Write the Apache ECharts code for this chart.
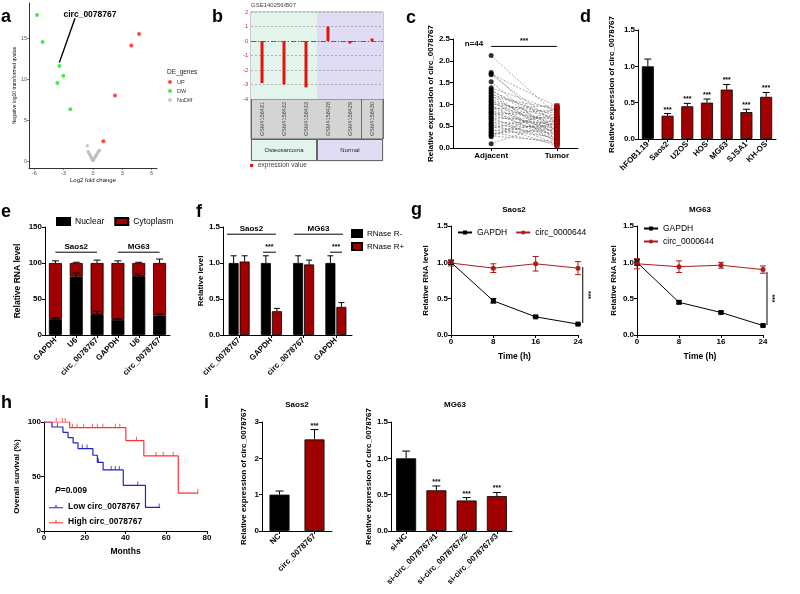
<!DOCTYPE html>
<html><head><meta charset="utf-8">
<script src="https://cdn.jsdelivr.net/npm/echarts@6/dist/echarts.min.js"></script>
<style>html,body{margin:0;padding:0;background:#fff}#chart{width:800px;height:594px}</style>
</head><body><div id="chart"></div>
<script>
// ================= DATA =================
// a: volcano
const volcanoUpX = [4.71, 3.92, 2.25, 1.06];
const volcanoUpY = [15.5, 14.1, 8.0, 2.4];
const volcanoDwX = [-5.73, -5.16, -3.44, -3.04, -3.65, -2.32];
const volcanoDwY = [17.8, 14.5, 11.6, 10.4, 9.5, 6.3];
const volcanoNoX = [-0.58, -0.5, -0.42, -0.34, -0.26, -0.18, -0.1, -0.03, 0.03, 0.1, 0.18, 0.26, 0.34, 0.42, 0.5, 0.58, 0.66];
const volcanoNoY = [1.85, 1.15, 0.98, 0.8, 0.62, 0.44, 0.26, 0.08, 0.1, 0.25, 0.42, 0.58, 0.74, 0.9, 1.05, 1.2, 1.32];
const volcanoLegend = ['UP', 'DW', 'NoDiff'];
// b: GEO profile
const bSamples = ['GSM4158431', 'GSM4158432', 'GSM4158433', 'GSM4158428', 'GSM4158429', 'GSM4158430'];
const bValues = [-2.9, -3.0, -3.2, 1.0, -0.05, 0.05];
const bGroups = ['Osteosarcoma', 'Normal'];
// c: paired
const cCats = ['Adjacent', 'Tumor'];
const cAdjacent = [2.12, 1.73, 1.70, 1.68, 1.52, 1.38, 1.34, 1.31, 1.27, 1.24, 1.20, 1.17, 1.13, 1.10, 1.07, 1.04, 1.01, 0.98, 0.95, 0.92, 0.90, 0.87, 0.84, 0.82, 0.79, 0.76, 0.73, 0.70, 0.67, 0.64, 0.60, 0.57, 0.54, 0.51, 0.48, 0.45, 0.42, 0.39, 0.36, 0.33, 0.30, 0.28, 0.26, 0.10];
const cTumor = [0.75, 0.35, 0.95, 0.55, 0.25, 0.85, 0.40, 0.62, 0.18, 0.72, 0.30, 0.90, 0.50, 0.12, 0.68, 0.45, 0.80, 0.22, 0.58, 0.35, 0.97, 0.15, 0.65, 0.42, 0.28, 0.88, 0.52, 0.08, 0.70, 0.38, 0.20, 0.60, 0.05, 0.48, 0.33, 0.78, 0.25, 0.55, 0.10, 0.43, 0.65, 0.15, 0.92, 0.60];
// d: cell lines
const dCells = ['hFOB1.19', 'Saos2', 'U2OS', 'HOS', 'MG63', 'SJSA1', 'KH-OS'];
const dMeans = [1.00, 0.32, 0.45, 0.50, 0.68, 0.37, 0.58];
const dErr = [0.10, 0.03, 0.04, 0.05, 0.07, 0.04, 0.06];
// e: nuclear / cytoplasm
const eCats = ['GAPDH', 'U6', 'circ_0078767', 'GAPDH', 'U6', 'circ_0078767'];
const eNuclear = [22, 81, 29, 21, 82, 27];
const eNuclearErr = [1.5, 5, 4, 1.5, 3.5, 2];
const eCyto = [78, 19, 71, 79, 18, 73];
const eCytoErr = [3, 1, 4, 3, 1, 5.5];
// f: RNase R
const fCats = ['circ_0078767', 'GAPDH', 'circ_0078767', 'GAPDH'];
const fMinus = [1.00, 1.00, 1.00, 1.00];
const fMinusErr = [0.10, 0.10, 0.10, 0.10];
const fPlus = [1.02, 0.33, 0.98, 0.39];
const fPlusErr = [0.08, 0.04, 0.06, 0.06];
// g: actinomycin D
const gTime = [0, 8, 16, 24];
const gSaosGapdh = [1.00, 0.47, 0.25, 0.15];
const gSaosGapdhErr = [0.03, 0.03, 0.01, 0.01];
const gSaosCirc = [0.99, 0.92, 0.98, 0.92];
const gSaosCircErr = [0.04, 0.06, 0.10, 0.09];
const gMgGapdh = [1.00, 0.45, 0.31, 0.13];
const gMgGapdhErr = [0.04, 0.02, 0.01, 0.01];
const gMgCirc = [0.98, 0.94, 0.96, 0.90];
const gMgCircErr = [0.07, 0.08, 0.04, 0.05];
// h: Kaplan-Meier
const hLowT = [0, 3.9, 9.3, 11.8, 14.3, 16.7, 24, 26.2, 29, 38.9, 49.8, 57];
const hLowS = [100, 95.4, 90.5, 85.7, 80.8, 75.6, 69.5, 63, 56, 41.8, 21.6, 21.6];
const hLowCensT = [6.6, 18.8, 21.1, 26.7, 33, 35, 37, 46, 56.5];
const hLowCensS = [95.4, 75.6, 75.6, 63, 56, 56, 56, 41.8, 21.6];
const hHighT = [0, 12.6, 40.2, 49, 65.9, 75.7];
const hHighS = [100, 94.8, 82.9, 68.9, 34.8, 34.8];
const hHighCensT = [6, 9, 10.4, 13.9, 16.2, 19.5, 23.8, 26.2, 28.9, 35, 37.2, 45.4, 55, 58.5, 63.4, 75.5];
const hHighCensS = [100, 100, 100, 94.8, 94.8, 94.8, 94.8, 94.8, 94.8, 94.8, 94.8, 82.9, 68.9, 68.9, 68.9, 34.8];
// i: overexpression / knockdown
const iLeftCats = ['NC', 'circ_0078767'];
const iLeft = [1.00, 2.52];
const iLeftErr = [0.10, 0.27];
const iRightCats = ['si-NC', 'si-circ_0078767#1', 'si-circ_0078767#2', 'si-circ_0078767#3'];
const iRight = [1.00, 0.56, 0.42, 0.48];
const iRightErr = [0.10, 0.06, 0.04, 0.05];

// ================= HELPERS =================
const FF = '"Liberation Sans", Arial, sans-serif';
const RED = '#a10000';
const option = { animation: false, backgroundColor: '#fff', grid: [], xAxis: [], yAxis: [], series: [], legend: [], graphic: [] };
function push(arr, o) { arr.push(o); return arr.length - 1; }
function merge(a, b) {
  for (const k in b) {
    if (b[k] && typeof b[k] === 'object' && !Array.isArray(b[k]) && typeof b[k] !== 'function' && a[k] && typeof a[k] === 'object') merge(a[k], b[k]);
    else a[k] = b[k];
  }
  return a;
}
function gpAxis(o) {
  return merge({
    axisLine: { show: true, onZero: false, lineStyle: { color: '#000', width: 1 } },
    axisTick: { show: true, length: 3, lineStyle: { color: '#000', width: 1 } },
    axisLabel: { color: '#000', fontWeight: 'bold', fontSize: 8, fontFamily: FF, margin: 3 },
    splitLine: { show: false },
    nameLocation: 'middle',
    nameTextStyle: { color: '#000', fontWeight: 'bold', fontSize: 8, fontFamily: FF }
  }, o);
}
function addGrid(g) { return push(option.grid, Object.assign({ containLabel: false, outerBoundsMode: 'none' }, g)); }
function hiddenX(g, n) { return push(option.xAxis, { type: 'value', gridIndex: g, min: -0.5, max: n - 0.5, show: false }); }
function tstyle(text, font, extra) {
  return Object.assign({ text: text, font: font, fill: '#000', textAlign: 'center', align: 'center', textVerticalAlign: 'middle', verticalAlign: 'middle' }, extra || {});
}
function gtext(x, y, text, font, extra) {
  option.graphic.push({ type: 'text', x: x, y: y, silent: true, z: 100, style: tstyle(text, font, extra) });
}
function errSeries(xi, yi, pts, opt) {
  opt = opt || {};
  return {
    type: 'custom', xAxisIndex: xi, yAxisIndex: yi, z: 6, silent: true, clip: false,
    data: pts, encode: { x: 0, y: 1 },
    renderItem: function (params, api) {
      const x = api.value(0), m = api.value(1), e = api.value(2), s = api.value(3);
      const dx = opt.dx || 0, cw = opt.cap || 3, col = opt.color || '#000';
      const c = api.coord([x, m]), t = api.coord([x, m + e]);
      const cx = c[0] + dx;
      const st = { stroke: col, lineWidth: 1 };
      const ch = [
        { type: 'line', shape: { x1: cx, y1: c[1], x2: cx, y2: t[1] }, style: st },
        { type: 'line', shape: { x1: cx - cw, y1: t[1], x2: cx + cw, y2: t[1] }, style: st }
      ];
      if (opt.both) {
        const b = api.coord([x, m - e]);
        ch.push({ type: 'line', shape: { x1: cx, y1: c[1], x2: cx, y2: b[1] }, style: st });
        ch.push({ type: 'line', shape: { x1: cx - cw, y1: b[1], x2: cx + cw, y2: b[1] }, style: st });
      }
      if (s > 0) ch.push({ type: 'text', style: tstyle('***', 'bold 7px ' + FF, { x: cx, y: t[1] - 0.5, textVerticalAlign: 'bottom', verticalAlign: 'bottom' }) });
      return { type: 'group', children: ch };
    }
  };
}
function annotSeries(xi, yi, segs, labels) {
  return {
    type: 'custom', xAxisIndex: xi, yAxisIndex: yi, z: 6, silent: true, clip: false,
    data: segs, encode: { x: [0, 2], y: [1, 3] },
    renderItem: function (params, api) {
      const p1 = api.coord([api.value(0), api.value(1)]), p2 = api.coord([api.value(2), api.value(3)]);
      const lab = labels[params.dataIndex];
      const font = (lab === '***' ? 'bold 7px ' : 'bold 8px ') + FF;
      const ch = [{ type: 'line', shape: { x1: p1[0], y1: p1[1], x2: p2[0], y2: p2[1] }, style: { stroke: '#000', lineWidth: 1 } }];
      if (lab) {
        if (Math.abs(p1[1] - p2[1]) < 0.5) {
          ch.push({ type: 'text', style: tstyle(lab, font, { x: (p1[0] + p2[0]) / 2, y: p1[1] - 1.5, textVerticalAlign: 'bottom', verticalAlign: 'bottom' }) });
        } else {
          ch.push({ type: 'text', x: p1[0] + 5, y: (p1[1] + p2[1]) / 2, rotation: -Math.PI / 2, style: tstyle(lab, font, { x: 0, y: 0 }) });
        }
      }
      return { type: 'group', children: ch };
    }
  };
}
function zip(a, b) { return a.map((v, i) => [v, b[i]]); }

// ================= PANEL a =================
(function () {
  const g = addGrid({ left: 29, top: 3, width: 128, height: 165 });
  const ticksX = [-6, -3, 0, 3, 6], ticksY = [0, 5, 10, 15];
  const xi = push(option.xAxis, {
    type: 'value', gridIndex: g, min: -6.55, max: 6.55,
    axisLine: { show: true, onZero: false, lineStyle: { color: '#000', width: 0.8 } },
    axisTick: { show: true, customValues: ticksX, length: 2, lineStyle: { color: '#333', width: 0.6 } },
    axisLabel: { customValues: ticksX, fontSize: 5.5, color: '#555', margin: 2, fontFamily: FF },
    splitLine: { show: false },
    name: 'Log2 fold change', nameLocation: 'middle', nameGap: 9, nameTextStyle: { fontSize: 6, color: '#111', fontFamily: FF }
  });
  const yi = push(option.yAxis, {
    type: 'value', gridIndex: g, min: -0.85, max: 19.27,
    axisLine: { show: true, onZero: false, lineStyle: { color: '#000', width: 0.8 } },
    axisTick: { show: true, customValues: ticksY, length: 2, lineStyle: { color: '#333', width: 0.6 } },
    axisLabel: { customValues: ticksY, fontSize: 5.5, color: '#555', margin: 2, fontFamily: FF },
    splitLine: { show: false },
    name: 'Negative log10 transformed qvalue', nameLocation: 'middle', nameGap: 10, nameTextStyle: { fontSize: 5, color: '#111', fontFamily: FF }
  });
  option.series.push({ type: 'scatter', name: volcanoLegend[0], xAxisIndex: xi, yAxisIndex: yi, data: zip(volcanoUpX, volcanoUpY), symbolSize: 4, itemStyle: { color: '#ff1a1a' } });
  option.series.push({
    type: 'scatter', name: volcanoLegend[1], xAxisIndex: xi, yAxisIndex: yi, data: zip(volcanoDwX, volcanoDwY), symbolSize: 4, itemStyle: { color: '#19e619' },
    markLine: { silent: true, symbol: ['none', 'arrow'], symbolSize: [0, 8], label: { show: false }, lineStyle: { color: '#000', width: 1.4, type: 'solid' },
      data: [[{ coord: [-3.45, 12.0] }, { coord: [-1.84, 17.4] }]] }
  });
  option.series.push({ type: 'scatter', name: volcanoLegend[2], xAxisIndex: xi, yAxisIndex: yi, data: zip(volcanoNoX, volcanoNoY), symbolSize: 3.5, itemStyle: { color: '#bdbdbd' } });
  option.legend.push({ data: volcanoLegend, left: 168, top: 79, orient: 'vertical', itemGap: 3, itemWidth: 4, itemHeight: 4, icon: 'circle', padding: 0, textStyle: { fontSize: 5.5, color: '#333', fontFamily: FF } });
  gtext(167, 72, 'DE_genes', '6.5px ' + FF, { textAlign: 'left', align: 'left', fill: '#222' });
  gtext(90, 14.5, 'circ_0078767', 'bold 8.5px ' + FF);
})();

// ================= PANEL b =================
(function () {
  const g = addGrid({ left: 251, top: 12, width: 132, height: 87, show: true, borderColor: '#7a7a7a', borderWidth: 0.8 });
  const xi = push(option.xAxis, { type: 'category', gridIndex: g, data: bSamples, axisLine: { show: false }, axisTick: { show: false }, axisLabel: { show: false } });
  const xv = hiddenX(g, bSamples.length);
  const yi = push(option.yAxis, {
    type: 'value', gridIndex: g, min: -4, max: 2, interval: 1, z: 3,
    axisLine: { show: false }, axisTick: { show: false },
    axisLabel: { color: '#e01010', fontSize: 5.5, margin: 3, fontFamily: FF },
    splitLine: { show: true, lineStyle: { color: '#8a8a8a', width: 0.6, type: [2, 2] } }
  });
  const bandColors = ['#e3f4ec', '#e0dcf4'];
  option.series.push({
    type: 'custom', xAxisIndex: xv, yAxisIndex: yi, z: 1, silent: true, data: [[-0.5, 2.5], [2.5, 5.5]], encode: { x: [0, 1] },
    renderItem: function (params, api) {
      const p1 = api.coord([api.value(0), 2]), p2 = api.coord([api.value(1), -4]);
      return { type: 'rect', shape: { x: p1[0], y: p1[1], width: p2[0] - p1[0], height: p2[1] - p1[1] }, style: { fill: bandColors[params.dataIndex] } };
    }
  });
  option.series.push({
    type: 'bar', name: 'expression value', xAxisIndex: xi, yAxisIndex: yi, data: bValues, barWidth: 3, barMinHeight: 2.5, z: 5,
    itemStyle: { color: '#e3160c' },
    markLine: { silent: true, symbol: 'none', label: { show: false }, data: [{ yAxis: 0 }], lineStyle: { color: '#e3160c', width: 0.9, type: [5, 2, 1, 2] } }
  });
  // sample boxes
  const g2 = addGrid({ left: 251, top: 99, width: 132, height: 40, show: true, backgroundColor: '#d4d4d4', borderColor: '#555', borderWidth: 0.8 });
  const x2 = push(option.xAxis, { type: 'category', gridIndex: g2, data: bSamples, axisLine: { show: false }, axisTick: { show: false }, axisLabel: { show: false }, splitLine: { show: true, lineStyle: { color: '#555', width: 0.8 } } });
  const y2 = push(option.yAxis, { type: 'value', gridIndex: g2, min: 0, max: 1, show: false });
  option.series.push({
    type: 'scatter', xAxisIndex: x2, yAxisIndex: y2, silent: true, symbolSize: 0, data: bSamples.map((s, i) => [i, 0.5]),
    label: { show: true, position: 'inside', rotate: 90, formatter: p => bSamples[p.dataIndex], fontSize: 5.5, color: '#222', fontFamily: FF }
  });
  // group boxes
  const g3 = addGrid({ left: 251, top: 139, width: 132, height: 22 });
  const x3 = push(option.xAxis, { type: 'category', gridIndex: g3, data: bGroups, show: false });
  const y3 = push(option.yAxis, { type: 'value', gridIndex: g3, min: 0, max: 1, show: false });
  option.series.push({
    type: 'bar', xAxisIndex: x3, yAxisIndex: y3, silent: true, barWidth: '100%',
    data: bGroups.map((n, i) => ({ value: 1, itemStyle: { color: bandColors[i] } })),
    itemStyle: { borderColor: '#333', borderWidth: 0.8 },
    label: { show: true, position: 'inside', formatter: p => bGroups[p.dataIndex], fontSize: 6, color: '#222', fontFamily: FF }
  });
  option.legend.push({ data: ['expression value'], left: 250, top: 162, icon: 'rect', itemWidth: 3, itemHeight: 3, padding: 0, textStyle: { fontSize: 6.5, color: '#444', fontFamily: FF } });
  gtext(251, 5, 'GSE140256/B07', '6px ' + FF, { textAlign: 'left', align: 'left', fill: '#444' });
})();

// ================= PANEL c =================
(function () {
  const g = addGrid({ left: 453, top: 39, width: 125, height: 109 });
  const xi = push(option.xAxis, gpAxis({ type: 'value', gridIndex: g, min: -0.58, max: 1.32, axisTick: { customValues: [0, 1] }, axisLabel: { customValues: [0, 1], formatter: v => cCats[Math.round(v)], margin: 4 } }));
  const yi = push(option.yAxis, gpAxis({ type: 'value', gridIndex: g, min: 0, max: 2.5, interval: 0.5, axisLabel: { formatter: v => v.toFixed(1) }, name: 'Relative expression of circ_0078767', nameGap: 17 }));
  cAdjacent.forEach((a, i) => {
    option.series.push({ type: 'line', xAxisIndex: xi, yAxisIndex: yi, silent: true, symbol: 'none', z: 2, data: [[0, a], [1, cTumor[i]]], lineStyle: { color: '#555', width: 0.5, type: [2, 1.5] } });
  });
  option.series.push({ type: 'scatter', xAxisIndex: xi, yAxisIndex: yi, z: 4, symbol: 'circle', symbolSize: 5, data: cAdjacent.map(v => [0, v]), itemStyle: { color: '#000' } });
  option.series.push({ type: 'scatter', xAxisIndex: xi, yAxisIndex: yi, z: 4, symbol: 'rect', symbolSize: 4.5, data: cTumor.map(v => [1, v]), itemStyle: { color: '#b00000', borderColor: '#6a0000', borderWidth: 0.5 } });
  option.series.push(annotSeries(xi, yi, [[0, 2.33, 1, 2.33]], ['***']));
  gtext(474, 44, 'n=44', 'bold 8px ' + FF);
})();

// ================= PANEL d =================
(function () {
  const g = addGrid({ left: 638, top: 30, width: 138, height: 109 });
  const xi = push(option.xAxis, gpAxis({ type: 'category', gridIndex: g, data: dCells, axisTick: { alignWithLabel: true }, axisLabel: { rotate: 45, interval: 0, margin: 4 } }));
  const yi = push(option.yAxis, gpAxis({ type: 'value', gridIndex: g, min: 0, max: 1.5, interval: 0.5, axisLabel: { formatter: v => v.toFixed(1) }, name: 'Relative expression of circ_0078767', nameGap: 22 }));
  option.series.push({ type: 'bar', xAxisIndex: xi, yAxisIndex: yi, barWidth: 12, data: dMeans.map((v, i) => ({ value: v, itemStyle: { color: i === 0 ? '#000' : RED } })), itemStyle: { borderColor: '#000', borderWidth: 0.8 } });
  option.series.push(errSeries(xi, yi, dMeans.map((v, i) => [i, v, dErr[i], i > 0 ? 1 : 0]), { cap: 3.5 }));
})();

// ================= PANEL e =================
(function () {
  const g = addGrid({ left: 45, top: 227, width: 125, height: 108 });
  const xi = push(option.xAxis, gpAxis({ type: 'category', gridIndex: g, data: eCats, axisTick: { alignWithLabel: true }, axisLabel: { rotate: 45, interval: 0, margin: 4 } }));
  const xv = hiddenX(g, eCats.length);
  const yi = push(option.yAxis, gpAxis({ type: 'value', gridIndex: g, min: 0, max: 150, interval: 50, name: 'Relative RNA level', nameGap: 23, nameTextStyle: { fontSize: 8.5 } }));
  option.series.push({ type: 'bar', name: 'Nuclear', xAxisIndex: xi, yAxisIndex: yi, stack: 'e', barWidth: 13, data: eNuclear, itemStyle: { color: '#000', borderColor: '#000', borderWidth: 0.8 } });
  option.series.push({ type: 'bar', name: 'Cytoplasm', xAxisIndex: xi, yAxisIndex: yi, stack: 'e', barWidth: 13, data: eCyto, itemStyle: { color: RED, borderColor: '#000', borderWidth: 0.8 } });
  option.series.push(errSeries(xi, yi, eNuclear.map((v, i) => [i, v, eNuclearErr[i], 0]), { cap: 3.5 }));
  option.series.push(errSeries(xi, yi, eNuclear.map((v, i) => [i, v + eCyto[i], eCytoErr[i], 0]), { cap: 3.5 }));
  option.series.push(annotSeries(xv, yi, [[0, 115, 2, 115], [3, 115, 5, 115]], ['Saos2', 'MG63']));
  option.legend.push({ data: ['Nuclear', 'Cytoplasm'], left: 56, top: 217, icon: 'rect', itemWidth: 13, itemHeight: 7, itemGap: 10, padding: 0, textStyle: { fontSize: 8.5, color: '#000', fontFamily: FF } });
})();

// ================= PANEL f =================
(function () {
  const g = addGrid({ left: 223, top: 227, width: 129, height: 108 });
  const xi = push(option.xAxis, gpAxis({ type: 'category', gridIndex: g, data: fCats, axisTick: { alignWithLabel: true }, axisLabel: { rotate: 45, interval: 0, margin: 4 } }));
  const xv = hiddenX(g, fCats.length);
  const yi = push(option.yAxis, gpAxis({ type: 'value', gridIndex: g, min: 0, max: 1.5, interval: 0.5, axisLabel: { formatter: v => v.toFixed(1) }, name: 'Relative level', nameGap: 11 }));
  option.series.push({ type: 'bar', name: 'RNase R-', xAxisIndex: xi, yAxisIndex: yi, barWidth: 10, barGap: '10%', data: fMinus, itemStyle: { color: '#000', borderColor: '#000', borderWidth: 0.8 } });
  option.series.push({ type: 'bar', name: 'RNase R+', xAxisIndex: xi, yAxisIndex: yi, barWidth: 10, barGap: '10%', data: fPlus, itemStyle: { color: RED, borderColor: '#000', borderWidth: 0.8 } });
  option.series.push(errSeries(xi, yi, fMinus.map((v, i) => [i, v, fMinusErr[i], 0]), { cap: 3, dx: -5.5 }));
  option.series.push(errSeries(xi, yi, fPlus.map((v, i) => [i, v, fPlusErr[i], 0]), { cap: 3, dx: 5.5 }));
  option.series.push(annotSeries(xv, yi, [[-0.376, 1.40, 1.14, 1.40], [1.70, 1.40, 3.22, 1.40], [0.74, 1.15, 1.14, 1.15], [2.82, 1.15, 3.19, 1.15]], ['Saos2', 'MG63', '***', '***']));
  option.legend.push({ data: ['RNase R-', 'RNase R+'], left: 351, top: 229, orient: 'vertical', icon: 'rect', itemWidth: 10, itemHeight: 7, itemGap: 4, padding: 0, textStyle: { fontSize: 8, color: '#000', fontFamily: FF } });
})();

// ================= PANEL g =================
function gPanel(left, width, gapd, gapdErr, circ, circErr, sigX, sigY1, sigY2, nameGap, title, titleX, legendOpt) {
  const g = addGrid({ left: left, top: 226, width: width, height: 109 });
  const xi = push(option.xAxis, gpAxis({ type: 'value', gridIndex: g, min: 0, max: 24, interval: 8, name: 'Time (h)', nameGap: 17, nameTextStyle: { fontSize: 8.5 } }));
  const yi = push(option.yAxis, gpAxis({ type: 'value', gridIndex: g, min: 0, max: 1.5, interval: 0.5, axisLabel: { formatter: v => v.toFixed(1) }, name: 'Relative RNA level', nameGap: nameGap }));
  option.series.push({ type: 'line', name: 'GAPDH', xAxisIndex: xi, yAxisIndex: yi, data: zip(gTime, gapd), symbol: 'rect', symbolSize: 5, itemStyle: { color: '#000' }, lineStyle: { color: '#000', width: 1 }, z: 4 });
  option.series.push({ type: 'line', name: 'circ_0000644', xAxisIndex: xi, yAxisIndex: yi, data: zip(gTime, circ), symbol: 'circle', symbolSize: 5, itemStyle: { color: '#b01c1c' }, lineStyle: { color: '#b01c1c', width: 1 }, z: 4 });
  option.series.push(errSeries(xi, yi, gTime.map((t, i) => [t, gapd[i], gapdErr[i], 0]), { cap: 3, both: true, color: '#000' }));
  option.series.push(errSeries(xi, yi, gTime.map((t, i) => [t, circ[i], circErr[i], 0]), { cap: 3, both: true, color: '#b01c1c' }));
  option.series.push(annotSeries(xi, yi, [[sigX, sigY1, sigX, sigY2]], ['***']));
  option.legend.push(Object.assign({ data: ['GAPDH', 'circ_0000644'], itemWidth: 14, itemHeight: 5, padding: 0, textStyle: { fontSize: 8.5, color: '#000', fontFamily: FF } }, legendOpt));
  gtext(titleX, 210, title, 'bold 8px ' + FF);
}
gPanel(451, 127, gSaosGapdh, gSaosGapdhErr, gSaosCirc, gSaosCircErr, 24.9, 0.936, 0.165, 21, 'Saos2', 514, { left: 457, top: 228, itemGap: 8 });
gPanel(637, 126, gMgGapdh, gMgGapdhErr, gMgCirc, gMgCircErr, 24.76, 0.867, 0.138, 19, 'MG63', 700, { left: 643, top: 224, orient: 'vertical', itemGap: 4 });

// ================= PANEL h =================
(function () {
  const g = addGrid({ left: 44, top: 422, width: 163, height: 109 });
  const xi = push(option.xAxis, gpAxis({ type: 'value', gridIndex: g, min: 0, max: 80, interval: 20, name: 'Months', nameGap: 16, nameTextStyle: { fontSize: 8.5 } }));
  const yi = push(option.yAxis, gpAxis({ type: 'value', gridIndex: g, min: 0, max: 100, interval: 50, name: 'Overall survival (%)', nameGap: 23 }));
  const BLUE = '#2323c8', PINK = '#ff3232';
  option.series.push({ type: 'line', name: 'Low circ_0078767', xAxisIndex: xi, yAxisIndex: yi, step: 'end', symbol: 'none', data: zip(hLowT, hLowS), lineStyle: { color: BLUE, width: 1.2 }, itemStyle: { color: BLUE }, z: 3 });
  option.series.push({ type: 'line', name: 'High circ_0078767', xAxisIndex: xi, yAxisIndex: yi, step: 'end', symbol: 'none', data: zip(hHighT, hHighS), lineStyle: { color: PINK, width: 1.2 }, itemStyle: { color: PINK }, z: 3 });
  option.series.push({ type: 'scatter', xAxisIndex: xi, yAxisIndex: yi, silent: true, symbol: 'rect', symbolSize: [1, 4], symbolOffset: [0, -2], data: zip(hLowCensT, hLowCensS), itemStyle: { color: BLUE }, z: 4 });
  option.series.push({ type: 'scatter', xAxisIndex: xi, yAxisIndex: yi, silent: true, symbol: 'rect', symbolSize: [1, 4], symbolOffset: [0, -2], data: zip(hHighCensT, hHighCensS), itemStyle: { color: PINK }, z: 4 });
  option.legend.push({ data: ['Low circ_0078767', 'High circ_0078767'], left: 49, top: 502, orient: 'vertical', icon: 'path://M0,6H28V8.4H0Z M13,1H15V7H13Z', itemWidth: 14, itemHeight: 5, itemGap: 6, padding: 0, textStyle: { fontSize: 8.5, fontWeight: 'bold', color: '#000', fontFamily: FF } });
  option.graphic.push({ type: 'text', x: 55, y: 491, silent: true, z: 100, style: tstyle('{i|P}=0.009', 'bold 8.5px ' + FF, { textAlign: 'left', align: 'left', rich: { i: { fontStyle: 'italic', fontWeight: 'bold', fontSize: 8.5, fontFamily: FF } } }) });
})();

// ================= PANEL i =================
function iPanel(left, width, cats, vals, errs, ymax, nameGap, title, titleX) {
  const g = addGrid({ left: left, top: 422, width: width, height: 109 });
  const xi = push(option.xAxis, gpAxis({ type: 'category', gridIndex: g, data: cats, axisTick: { alignWithLabel: true }, axisLabel: { rotate: 45, interval: 0, margin: 4 } }));
  const yi = push(option.yAxis, gpAxis({ type: 'value', gridIndex: g, min: 0, max: ymax, interval: ymax / 3, axisLabel: { formatter: v => ymax === 3 ? String(v) : v.toFixed(1) }, name: 'Relative expression of circ_0078767', nameGap: nameGap }));
  option.series.push({ type: 'bar', xAxisIndex: xi, yAxisIndex: yi, barWidth: 20, data: vals.map((v, i) => ({ value: v, itemStyle: { color: i === 0 ? '#000' : RED } })), itemStyle: { borderColor: '#000', borderWidth: 0.8 } });
  option.series.push(errSeries(xi, yi, vals.map((v, i) => [i, v, errs[i], i > 0 ? 1 : 0]), { cap: 4 }));
  gtext(titleX, 405, title, 'bold 8px ' + FF);
}
iPanel(262, 70, iLeftCats, iLeft, iLeftErr, 3, 14, 'Saos2', 297);
iPanel(391, 121, iRightCats, iRight, iRightErr, 1.5, 18, 'MG63', 455);

// ================= PANEL LETTERS =================
const LF = 'bold 18px ' + FF;
[['a', 1, 17.5], ['b', 212, 17.5], ['c', 406, 18], ['d', 580, 17.5], ['e', 1, 212], ['f', 196, 212], ['g', 411, 210], ['h', 1, 403], ['i', 204, 403]]
  .forEach(l => gtext(l[1], l[2], l[0], LF, { textAlign: 'left', align: 'left' }));

const chart = echarts.init(document.getElementById('chart'), null, { renderer: 'canvas' });
chart.setOption(option);
</script></body></html>
